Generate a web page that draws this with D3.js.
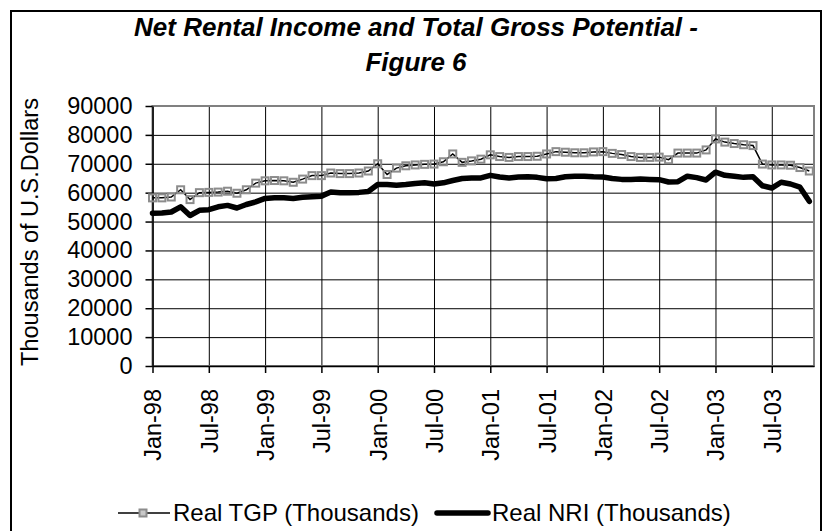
<!DOCTYPE html>
<html>
<head>
<meta charset="utf-8">
<script src="https://cdn.jsdelivr.net/npm/d3@7"></script>
<style>
  body { margin: 0; background: #fff; }
  svg { display: block; font-family: "Liberation Sans", Arial, sans-serif; }
</style>
</head>
<body>
<script>
// months from Jan-98 through Nov-03 (index 0 = Jan-98)
var monthIndex = d3.range(0, 71);

// Real TGP (Thousands)
var tgpValues = [
    58200, 58200, 58500, 61000, 57600, 60000, 60100, 60200, 60500, 59800, 61000, 63300,
    64100, 64200, 64100, 63600, 64700, 65900, 65900, 66800, 66600, 66600, 66800, 67500,
    70000, 66300, 68500, 69300, 69600, 69800, 69900, 70700, 73400, 70500, 71000, 71600,
    73100, 72500, 72200, 72500, 72500, 72600, 73400, 74200, 74000, 73800, 73800, 74100,
    74200, 73600, 73200, 72500, 72200, 72200, 72300, 71400, 73700, 73700, 73700, 74800,
    78600, 77500, 77000, 76600, 76300, 69900, 69600, 69600, 69500, 68700, 67500
];

// Real NRI (Thousands)
var nriValues = [
    52900, 53000, 53300, 55100, 52100, 53900, 54100, 55100, 55600, 54700, 55900, 56800,
    58000, 58200, 58200, 58000, 58400, 58600, 58800, 60200, 60000, 60000, 60100, 60400,
    62800, 62800, 62600, 62800, 63200, 63400, 63000, 63400, 64200, 64900, 65100, 65100,
    66000, 65400, 65100, 65400, 65500, 65300, 64800, 64900, 65500, 65700, 65700, 65500,
    65400, 64900, 64600, 64600, 64700, 64600, 64500, 63700, 63800, 65700, 65200, 64400,
    67100, 66000, 65700, 65300, 65500, 62400, 61600, 63600, 63000, 61900, 57000
];

// x tick labels, one every six months
var xTickIndex = [0, 6, 12, 18, 24, 30, 36, 42, 48, 54, 60, 66];
var xTickLabels = ["Jan-98", "Jul-98", "Jan-99", "Jul-99", "Jan-00", "Jul-00",
    "Jan-01", "Jul-01", "Jan-02", "Jul-02", "Jan-03", "Jul-03"];

var yTicks = [0, 10000, 20000, 30000, 40000, 50000, 60000, 70000, 80000, 90000];

var seriesNames = ["Real TGP (Thousands)", "Real NRI (Thousands)"];

//////////////////////
// frame
var width = 825,
    height = 531,
    plotLeft = 152.5,
    plotRight = 814,
    plotTop = 106,
    plotBottom = 366;

var svg = d3.select("body")
    .append("svg")
    .attr("width", width)
    .attr("height", height);

svg.append("rect")
    .attr("width", width)
    .attr("height", height)
    .attr("fill", "#fff");

// outer chart border
svg.append("rect")
    .attr("x", 11)
    .attr("y", 11)
    .attr("width", 810)
    .attr("height", 540)
    .attr("fill", "none")
    .attr("stroke", "#000")
    .attr("stroke-width", 2);

// scales
var xScale = d3.scaleLinear()
    .domain([0, 70.5])
    .range([plotLeft, plotRight]);

var yScale = d3.scaleLinear()
    .domain([0, 90000])
    .range([plotBottom, plotTop]);

// title
var title = svg.append("text")
    .attr("text-anchor", "middle")
    .style("font-size", "26px")
    .style("font-weight", "bold")
    .style("font-style", "italic");
title.append("tspan").attr("x", 416).attr("y", 36)
    .text("Net Rental Income and Total Gross Potential -");
title.append("tspan").attr("x", 416).attr("y", 71)
    .text("Figure 6");

// horizontal gridlines
svg.append("g")
    .attr("class", "ygrid")
    .attr("transform", "translate(" + plotLeft + ",0)")
    .call(d3.axisLeft(yScale).tickValues(yTicks)
        .tickSize(-(plotRight - plotLeft)).tickFormat(""))
    .call(function(g) { g.select(".domain").remove(); })
    .selectAll("line")
    .attr("stroke", "#000")
    .attr("stroke-width", 1);

// vertical gridlines
svg.append("g")
    .attr("class", "xgrid")
    .attr("transform", "translate(0," + plotBottom + ")")
    .call(d3.axisBottom(xScale).tickValues(xTickIndex)
        .tickSize(-(plotBottom - plotTop)).tickFormat(""))
    .call(function(g) { g.select(".domain").remove(); })
    .selectAll("line")
    .attr("stroke", "#000")
    .attr("stroke-width", 1);

// plot area border
svg.append("rect")
    .attr("x", plotLeft)
    .attr("y", plotTop)
    .attr("width", plotRight - plotLeft)
    .attr("height", plotBottom - plotTop)
    .attr("fill", "none")
    .attr("stroke", "#808080")
    .attr("stroke-width", 2);

// y axis
var yAxis = svg.append("g")
    .attr("transform", "translate(" + plotLeft + ",0)")
    .call(d3.axisLeft(yScale).tickValues(yTicks)
        .tickSize(7).tickPadding(13).tickSizeOuter(0)
        .tickFormat(d3.format("d")));
yAxis.select(".domain").attr("stroke", "#000").attr("stroke-width", 1.5);
yAxis.selectAll(".tick line").attr("stroke", "#000").attr("stroke-width", 1.5);
yAxis.selectAll("text")
    .style("font-size", "23.5px")
    .attr("fill", "#000");

// x axis
var xAxis = svg.append("g")
    .attr("transform", "translate(0," + plotBottom + ")")
    .call(d3.axisBottom(xScale).tickValues(xTickIndex)
        .tickSize(7).tickSizeOuter(0)
        .tickFormat(function(d, i) { return xTickLabels[i]; }));
xAxis.select(".domain").attr("stroke", "#000").attr("stroke-width", 1.5);
xAxis.selectAll(".tick line").attr("stroke", "#000").attr("stroke-width", 1.5);
xAxis.selectAll("text")
    .attr("transform", "rotate(-90)")
    .attr("text-anchor", "end")
    .attr("x", -23)
    .attr("y", 0)
    .attr("dy", "0.36em")
    .style("font-size", "23.5px")
    .attr("fill", "#000");

// y axis title
svg.append("text")
    .attr("transform", "translate(38,232) rotate(-90)")
    .attr("text-anchor", "middle")
    .style("font-size", "23.5px")
    .text("Thousands of U.S.Dollars");

// lines
var line = d3.line()
    .x(function(d) { return xScale(d[0]); })
    .y(function(d) { return yScale(d[1]); });

var tgpData = monthIndex.map(function(m, i) { return [m, tgpValues[i]]; });
var nriData = monthIndex.map(function(m, i) { return [m, nriValues[i]]; });

svg.append("path")
    .datum(tgpData)
    .attr("d", line)
    .attr("fill", "none")
    .attr("stroke", "#000")
    .attr("stroke-width", 1.5);

svg.selectAll(".tgpMarker")
    .data(tgpData)
    .enter()
    .append("rect")
    .attr("class", "tgpMarker")
    .attr("x", function(d) { return xScale(d[0]) - 3.5; })
    .attr("y", function(d) { return yScale(d[1]) - 3.5; })
    .attr("width", 7)
    .attr("height", 7)
    .attr("fill", "none")
    .attr("stroke", "#8c8c8c")
    .attr("stroke-width", 2);

svg.append("path")
    .datum(nriData)
    .attr("d", line)
    .attr("fill", "none")
    .attr("stroke", "#000")
    .attr("stroke-width", 5.5)
    .attr("stroke-linejoin", "round")
    .attr("stroke-linecap", "round");

// legend
var legendY = 513;
var legend = svg.append("g");

legend.append("line")
    .attr("x1", 118).attr("x2", 170)
    .attr("y1", legendY).attr("y2", legendY)
    .attr("stroke", "#000")
    .attr("stroke-width", 1.5);
legend.append("rect")
    .attr("x", 139.5).attr("y", legendY - 3.5)
    .attr("width", 7).attr("height", 7)
    .attr("fill", "#c8c8c8")
    .attr("stroke", "#8c8c8c")
    .attr("stroke-width", 2);
legend.append("text")
    .attr("x", 173).attr("y", legendY)
    .attr("dy", "0.35em")
    .style("font-size", "24px")
    .text(seriesNames[0]);

legend.append("line")
    .attr("x1", 437).attr("x2", 488)
    .attr("y1", legendY).attr("y2", legendY)
    .attr("stroke", "#000")
    .attr("stroke-width", 5.5)
    .attr("stroke-linecap", "round");
legend.append("text")
    .attr("x", 492).attr("y", legendY)
    .attr("dy", "0.35em")
    .style("font-size", "24px")
    .text(seriesNames[1]);
</script>
</body>
</html>
